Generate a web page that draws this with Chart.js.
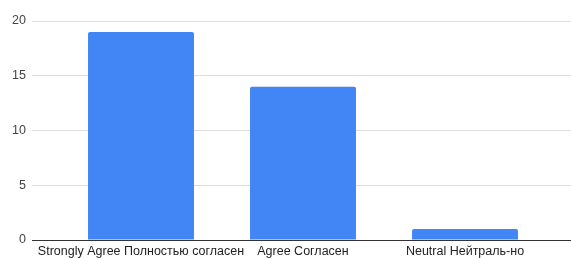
<!DOCTYPE html>
<html>
<head>
<meta charset="utf-8">
<script src="https://cdn.jsdelivr.net/npm/chart.js@4.4.1/dist/chart.umd.min.js"></script>
<style>
  html, body { margin: 0; padding: 0; background: #fff; }
  canvas { display: block; }
</style>
</head>
<body>
<canvas id="chart" width="571" height="258"></canvas>
<script>
// Dados do gráfico
const categorias = ['Strongly Agree Полностью согласен', 'Agree Согласен', 'Neutral Нейтраль-но'];
const respostas = [19, 14, 1];
const ticksY = [0, 5, 10, 15, 20];

// Cor da linha de grade: a linha do zero é escura
function corGrade(ctx) {
  return ctx.tick && ctx.tick.value === 0 ? '#333333' : '#dddddd';
}

const ctx = document.getElementById('chart').getContext('2d');
new Chart(ctx, {
  type: 'bar',
  data: {
    labels: categorias,
    datasets: [{
      data: respostas,
      backgroundColor: '#4285f4',
      borderRadius: 2,
      borderSkipped: 'bottom',
      categoryPercentage: 1,
      barPercentage: 0.654,
      yAxisID: 'y'
    }]
  },
  options: {
    responsive: false,
    animation: false,
    layout: { padding: { top: 21, right: 0, bottom: 0, left: 0 } },
    plugins: {
      legend: { display: false },
      tooltip: { enabled: false }
    },
    scales: {
      x: {
        grid: { display: false, drawTicks: false },
        border: { display: false },
        ticks: {
          padding: 4,
          color: '#222',
          maxRotation: 0,
          autoSkip: false,
          font: { family: 'Liberation Sans, Arial, sans-serif', size: 12.5 }
        },
        afterFit: scale => { scale.height = 18; }
      },
      y: {
        position: 'left',
        min: ticksY[0],
        max: ticksY[ticksY.length - 1],
        grid: { color: corGrade, tickLength: 28, lineWidth: 1 },
        border: { display: false },
        ticks: {
          stepSize: 5,
          padding: 6,
          color: '#444',
          font: { family: 'Liberation Sans, Arial, sans-serif', size: 12.5 }
        },
        afterBuildTicks: scale => { scale.ticks = ticksY.map(v => ({ value: v })); },
        afterFit: scale => { scale.width = 60; }
      },
      y2: {
        position: 'right',
        min: ticksY[0],
        max: ticksY[ticksY.length - 1],
        grid: { color: corGrade, drawOnChartArea: false, tickLength: 25 },
        border: { display: false },
        ticks: { display: false, stepSize: 5 },
        afterBuildTicks: scale => { scale.ticks = ticksY.map(v => ({ value: v })); },
        afterFit: scale => { scale.width = 25; }
      }
    }
  }
});
</script>
</body>
</html>
